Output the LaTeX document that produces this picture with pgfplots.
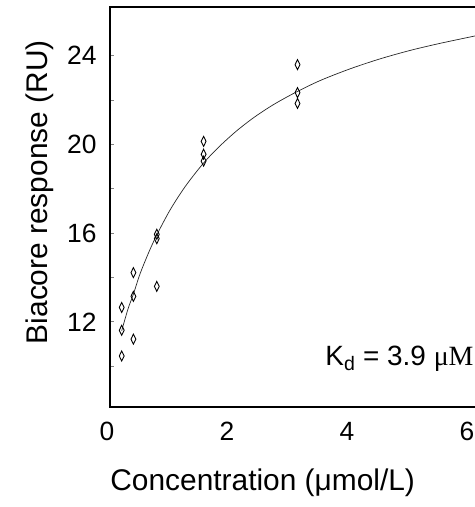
\documentclass[border=0pt]{standalone}
\usepackage{pgfplots}
\pgfplotsset{compat=1.18}
\usepackage{fontspec}
\setmainfont{Liberation Sans}
\newfontfamily\seriffont{Liberation Serif}

\pgfplotstableread{
x y
0.195 12.65
0.195 11.62
0.195 10.46
0.39 14.22
0.39 13.15
0.39 11.22
0.78 15.95
0.78 15.75
0.78 13.60
1.56 20.14
1.56 19.56
1.56 19.25
3.125 23.60
3.125 22.34
3.125 21.85
}\measured

\pgfplotstableread{
x y
0.195 11.60
0.30 12.58
0.39 13.25
0.50 14.16
0.65 15.16
0.78 15.92
1.00 17.04
1.25 18.09
1.54 19.10
1.80 19.85
2.10 20.59
2.40 21.22
2.72 21.79
3.08 22.33
3.50 22.88
4.00 23.41
4.50 23.86
5.00 24.24
5.50 24.56
6.13 24.92
}\fitted

\begin{document}
\begin{tikzpicture}
\begin{axis}[
    at={(110bp,100bp)}, anchor=south west,
    scale only axis,
    width=368bp, height=400bp,
    xmin=0, xmax=6.133,
    ymin=8.16, ymax=26.2,
    axis line style={line width=1.4pt},
    xtick={0,2,4,6},
    ytick={12,16,20,24},
    minor ytick={10,14,18,22},
    xtick style={draw=none},
    ytick style={line width=0.8pt},
    major tick length=4bp, minor tick length=4bp,
    tick align=inside,
    ytick pos=left,
    /pgf/number format/assume math mode=true,
    tick label style={font=\fontsize{26.5}{29}\selectfont},
    yticklabel style={xshift=-10bp},
    xticklabel style={yshift=-12bp, xshift=-3bp},
    xlabel={Concentration (μmol/L)},
    ylabel={Biacore response (RU)},
    label style={font=\fontsize{30}{34}\selectfont},
    xlabel style={at={(axis description cs:0.415,-0.19)}, anchor=center},
    ylabel style={at={(axis description cs:-0.19,0.537)}, anchor=center},
]
\addplot[smooth, color=black!85, line width=0.7pt] table[x=x, y=y] {\fitted};
\addplot[only marks, mark=diamond, mark size=5bp,
    mark options={xscale=0.65, line width=0.9pt, draw=black, fill=white}]
    table[x=x, y=y] {\measured};
\node[anchor=base west, font=\fontsize{28}{32}\selectfont]
    at (axis description cs:0.576,0.105) {K\textsubscript{d} = 3.9 {\seriffont μM}};
\end{axis}
\pgfresetboundingbox
\path[use as bounding box] (0,0) rectangle (475bp,507bp);
\end{tikzpicture}
\end{document}
